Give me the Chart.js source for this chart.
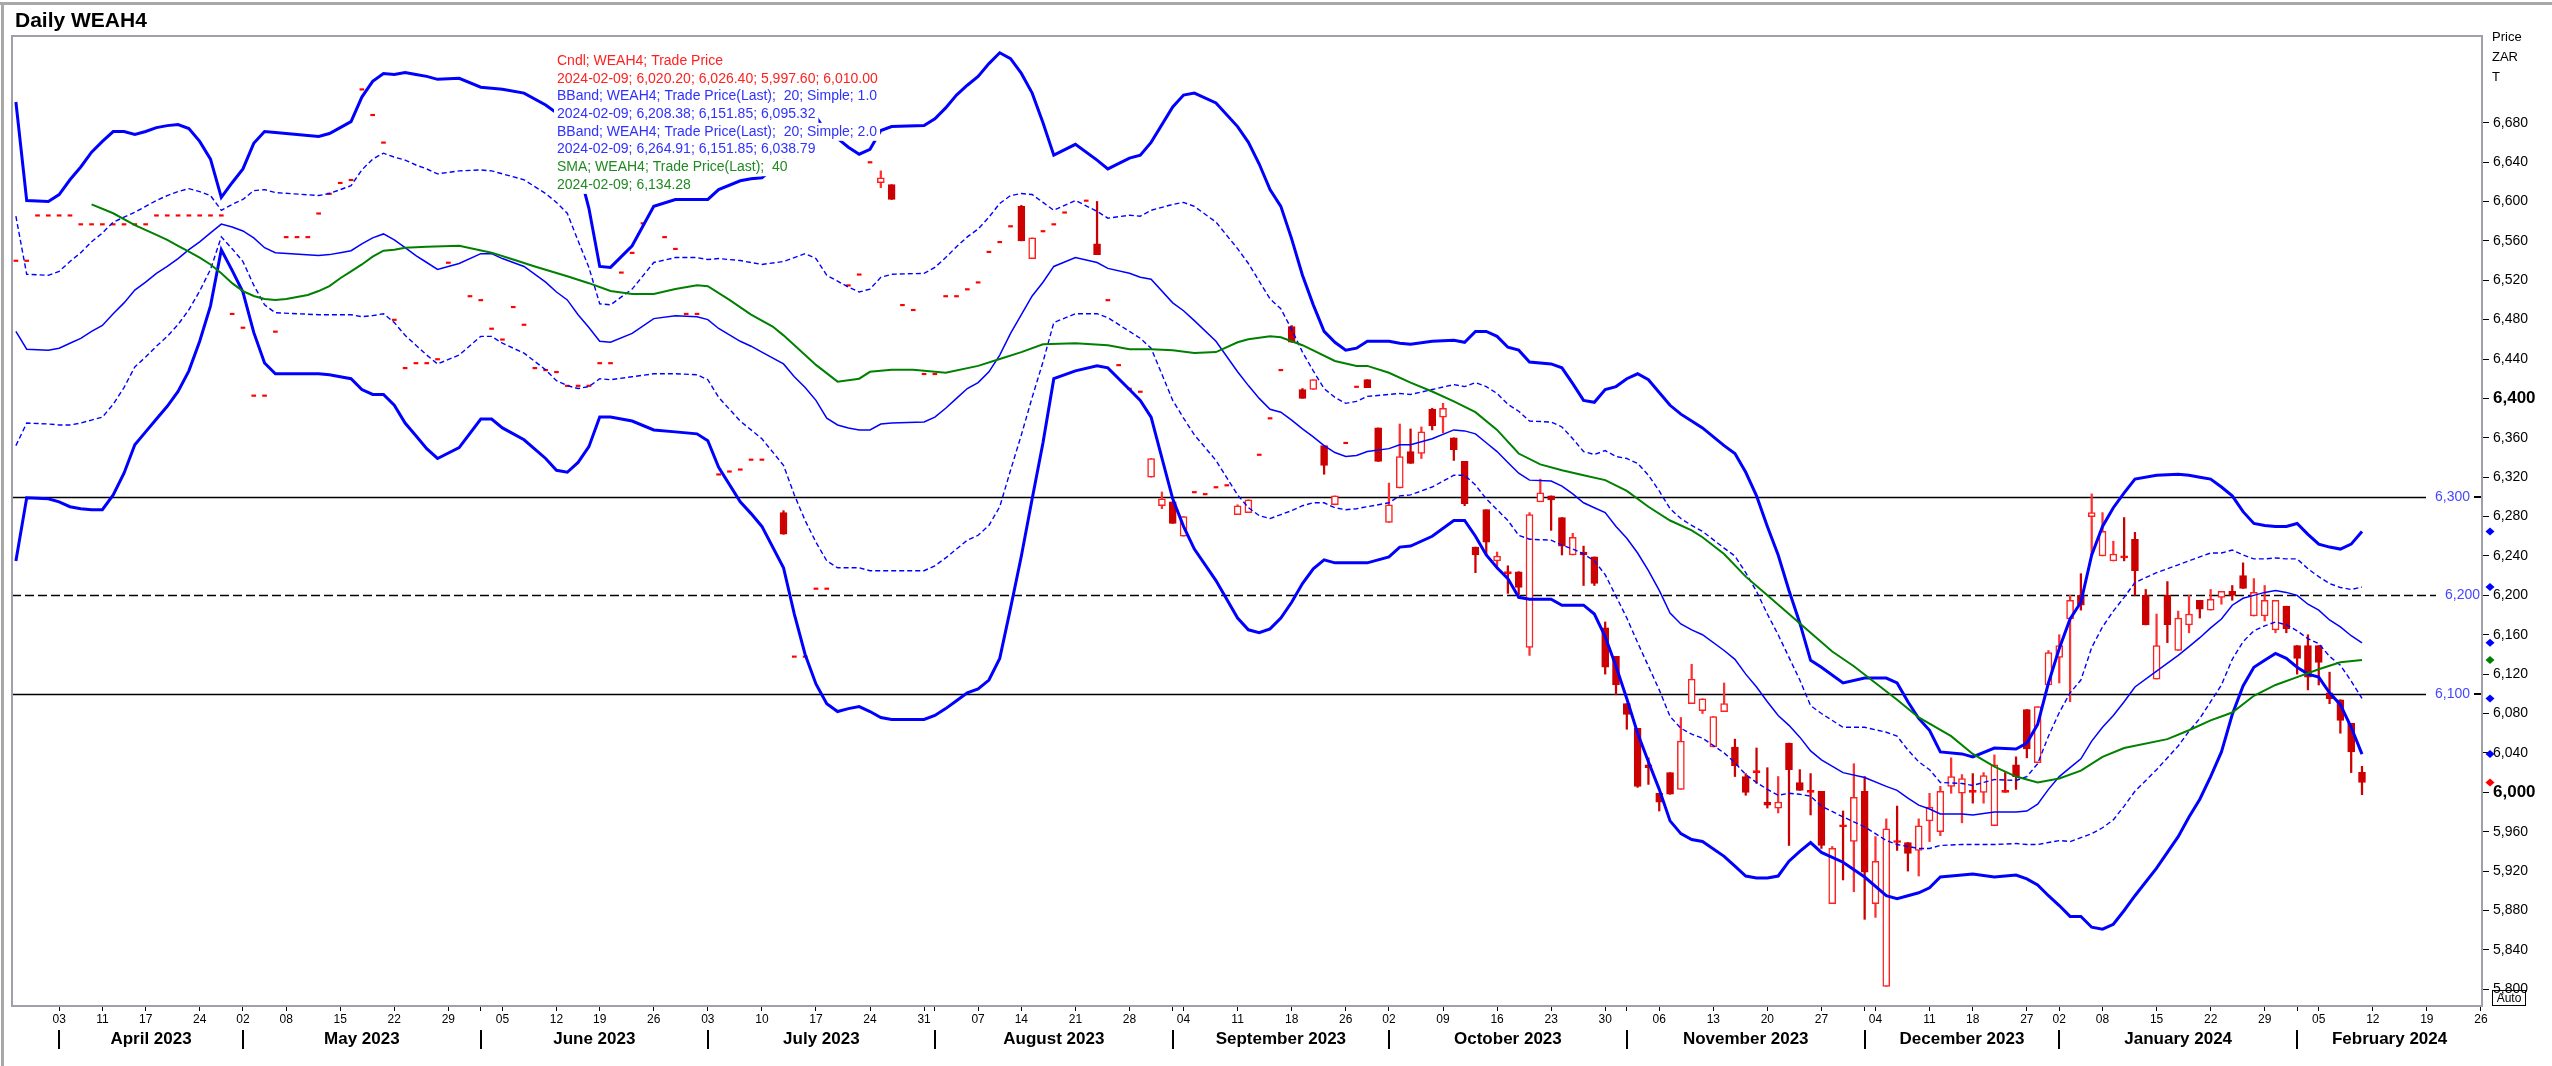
<!DOCTYPE html>
<html>
<head>
<meta charset="utf-8">
<title>Daily WEAH4</title>
<script src="https://cdn.jsdelivr.net/npm/chart.js@4.4.1/dist/chart.umd.min.js"></script>
<style>
  html, body { margin: 0; padding: 0; background: #fff; }
  canvas { display: block; }
</style>
</head>
<body>
<canvas id="priceChart" width="2552" height="1066"></canvas>
<script>
// x values are trading-day numbers, 0 = 3 April 2023 (JSE trading calendar)
const lastDate = '2024-02-09';

// bottom axis: first trading day of each week and its day label
const dayTickIdx = [0,4,8,13,17,21,26,31,36,41,46,50,55,60,65,70,75,80,85,89,94,99,104,109,114,119,123,128,133,138,143,148,153,158,163,168,173,177,182,185,189,194,199,204,209,214,219,224];
const dayTickLabels = ['03','11','17','24','02','08','15','22','29','05','12','19','26','03','10','17','24','31','07','14','21','28','04','11','18','26','02','09','16','23','30','06','13','20','27','04','11','18','27','02','08','15','22','29','05','12','19','26'];
const monthStartIdx = [0,17,39,60,81,103,123,145,167,185,207];
const monthLabels = ['April 2023','May 2023','June 2023','July 2023','August 2023','September 2023','October 2023','November 2023','December 2023','January 2024','February 2024'];

// days with a single traded price (drawn as a dash)
const flatIdx = [-4,-3,-2,-1,0,1,2,3,4,5,6,7,8,9,10,11,12,13,14,15,16,17,18,19,20,21,22,23,24,25,26,27,28,29,30,31,32,33,34,35,36,38,39,40,41,42,43,44,45,46,47,48,49,50,51,52,53,54,56,57,58,59,61,62,63,64,65,68,69,70,71,73,74,75,78,79,80,81,82,83,84,85,86,87,88,91,92,93,95,97,98,99,100,105,106,107,108,111,112,113,119,120];
const flatPrice = [6539,6539,6585,6585,6585,6585,6576,6576,6576,6576,6576,6576,6576,6585,6585,6585,6585,6585,6585,6585,6485,6471,6402,6402,6467,6563,6563,6563,6587,6607,6618,6621,6713,6687,6659,6479,6430,6435,6435,6439,6537,6503,6499,6470,6459,6492,6474,6430,6428,6426,6412,6412,6412,6435,6435,6527,6547,6577,6563,6551,6485,6485,6322,6325,6327,6337,6337,6137,6137,6206,6206,6514,6525,6639,6494,6489,6424,6424,6503,6503,6510,6517,6548,6558,6574,6569,6576,6588,6600,6499,6433,6409,6406,6304,6302,6309,6311,6342,6379,6428,6354,6411];

// candles
const candleIdx = [
  67,76,77,89,90,96,101,102,103,104,
  109,110,114,115,116,117,118,121,122,123,
  124,125,126,127,128,129,130,131,132,133,
  134,135,136,137,138,139,140,141,142,143,
  144,145,146,147,148,149,150,151,152,153,
  154,155,156,157,158,159,160,161,162,163,
  164,165,166,167,168,169,170,171,172,173,
  174,175,176,177,178,179,180,181,182,183,
  184,185,186,187,188,189,190,191,192,193,
  194,195,196,197,198,199,200,201,202,203,
  204,205,206,207,208,209,210,211,212,213];
const candleOpen = [
  6284,6619,6617,6595,6542,6557,6320,6291,6295,6260,
  6282,6284,6473,6409,6409,6352,6292,6419,6370,6274,
  6309,6346,6344,6389,6381,6360,6336,6249,6287,6235,
  6222,6224,6147,6295,6301,6279,6241,6244,6239,6167,
  6138,6090,6065,6028,5999,6020,6003,6090,6083,6046,
  6082,6046,6016,6020,5990,5984,6050,6010,6000,6001,
  5887,5965,5950,6001,5887,5803,5949,5949,5941,5971,
  5960,6006,5999,6000,6000,5966,6000,6028,6084,6030,
  6109,6137,6176,6200,6280,6240,6235,6238,6257,6200,
  6115,6200,6144,6170,6195,6185,6198,6204,6220,6179,
  6179,6165,6189,6149,6149,6149,6101,6094,6070,6020.20];
const candleHigh = [
  6286,6631,6617,6596,6563,6600,6339,6305,6295,6280,
  6292,6297,6474,6410,6419,6352,6301,6419,6370,6314,
  6374,6369,6371,6390,6395,6360,6336,6249,6287,6244,
  6230,6224,6284,6318,6301,6279,6263,6250,6239,6173,
  6138,6090,6065,6035,5999,6020,6076,6130,6095,6077,
  6111,6054,6019,6045,6025,6016,6050,6023,6019,6001,
  5945,5981,6029,6016,5955,5973,5986,5949,5973,5999,
  6006,6035,6018,6019,6020,6038,6020,6036,6084,6087,
  6144,6160,6200,6222,6303,6284,6255,6279,6264,6206,
  6181,6214,6184,6200,6195,6206,6204,6210,6233,6217,
  6210,6195,6189,6149,6160,6149,6122,6094,6070,6026.40];
const candleLow = [
  6262,6614,6602,6560,6542,6546,6320,6288,6273,6260,
  6282,6284,6457,6400,6409,6323,6292,6411,6336,6274,
  6309,6334,6339,6368,6365,6337,6291,6223,6241,6227,
  6202,6200,6139,6295,6266,6241,6241,6210,6210,6120,
  6099,6064,6005,6008,5981,5998,6003,6090,6080,6046,
  6082,6016,5997,6009,5984,5979,5946,6002,5977,5943,
  5887,5911,5899,5871,5873,5803,5941,5920,5915,5950,
  5956,5999,5969,5989,5989,5966,6000,6003,6035,6030,
  6109,6111,6092,6185,6241,6240,6235,6235,6200,6170,
  6115,6152,6144,6162,6177,6185,6191,6195,6207,6179,
  6174,6162,6162,6120,6104,6109,6090,6060,6020,5997.60];
const candleClose = [
  6262,6624,6602,6560,6563,6546,6339,6298,6273,6280,
  6291,6297,6457,6400,6419,6332,6301,6411,6336,6292,
  6341,6334,6366,6372,6390,6348,6293,6241,6254,6240,
  6222,6208,6282,6304,6297,6250,6259,6241,6212,6127,
  6109,6079,6006,6025,5990,5998,6052,6115,6095,6077,
  6090,6027,6000,6020,5987,5990,6023,6002,6000,5946,
  5943,5965,5995,5919,5930,5963,5949,5938,5966,5985,
  6001,6016,6014,6000,6017,6028,6000,6016,6044,6087,
  6142,6149,6195,6190,6284,6265,6242,6238,6225,6170,
  6149,6170,6177,6181,6186,6196,6204,6200,6207,6203,
  6195,6195,6166,6136,6117,6132,6095,6073,6041,6010.00];

// Bollinger bands (20, simple)
const bandIdx = [
  -4,-3,-1,0,1,2,3,4,5,6,
  7,8,9,10,11,12,13,14,15,16,
  17,18,19,20,24,25,26,27,28,29,
  30,31,32,33,34,35,37,39,40,41,
  43,45,46,47,48,49,50,51,53,55,
  57,59,60,61,63,64,65,67,68,69,
  70,71,72,73,74,75,76,77,80,81,
  82,83,84,85,86,87,88,89,90,91,
  92,94,96,97,99,100,101,103,104,105,
  107,109,110,111,112,113,114,115,116,117,
  118,119,120,121,123,124,125,127,129,130,
  131,132,133,134,135,136,138,139,140,141,
  142,143,144,145,146,147,148,149,150,151,
  152,154,155,156,157,158,159,160,161,162,
  163,165,167,169,170,171,172,173,174,176,
  177,179,181,182,183,184,185,186,187,188,
  189,190,191,192,194,196,197,198,199,200,
  201,202,203,204,205,206,207,208,209,210,
  211,212,213];
const bandUpper2 = [
  6701,6601,6600,6607,6622,6635,6650,6661,6671,6671,
  6668,6671,6675,6677,6678,6674,6661,6643,6604,6619,
  6633,6659,6671,6670,6666,6669,6675,6681,6706,6722,
  6730,6729,6731,6729,6727,6724,6725,6716,6715,6714,
  6710,6698,6690,6675,6635,6593,6534,6533,6555,6595,
  6602,6602,6602,6612,6621,6623,6624,6642,6663,6682,
  6686,6670,6664,6655,6648,6653,6672,6676,6677,6684,
  6695,6708,6718,6727,6740,6751,6745,6730,6710,6680,
  6647,6658,6642,6633,6644,6647,6660,6696,6708,6710,
  6700,6676,6660,6638,6612,6595,6562,6525,6495,6468,
  6457,6449,6451,6458,6458,6456,6455,6458,6459,6457,
  6468,6468,6463,6452,6449,6437,6435,6431,6415,6398,
  6396,6409,6412,6420,6425,6419,6406,6393,6384,6377,
  6370,6352,6344,6325,6301,6270,6241,6205,6172,6134,
  6127,6111,6116,6116,6111,6092,6075,6063,6041,6039,
  6036,6045,6044,6050,6069,6111,6146,6176,6193,6241,
  6270,6289,6304,6318,6322,6323,6322,6320,6318,6310,
  6301,6285,6273,6271,6270,6270,6273,6262,6252,6249,
  6247,6252,6264.91];
const bandUpper1 = [
  6585,6526,6525,6529,6539,6548,6559,6568,6579,6584,
  6589,6595,6601,6606,6610,6613,6610,6606,6591,6597,
  6602,6611,6612,6609,6606,6608,6612,6616,6632,6643,
  6649,6645,6642,6637,6633,6628,6631,6632,6631,6628,
  6622,6608,6599,6588,6560,6533,6496,6495,6511,6538,
  6543,6543,6541,6542,6540,6538,6536,6539,6543,6547,
  6542,6525,6519,6513,6508,6511,6523,6526,6527,6533,
  6543,6554,6564,6572,6584,6598,6606,6608,6607,6599,
  6591,6601,6590,6583,6586,6585,6591,6597,6599,6595,
  6579,6552,6537,6519,6501,6491,6470,6447,6428,6410,
  6401,6395,6397,6402,6404,6405,6404,6409,6414,6412,
  6416,6412,6405,6394,6387,6377,6376,6371,6359,6346,
  6343,6347,6341,6339,6334,6322,6306,6288,6278,6271,
  6265,6248,6240,6223,6204,6181,6160,6137,6114,6088,
  6080,6066,6066,6061,6057,6043,6031,6023,6010,6009,
  6007,6013,6012,6016,6029,6057,6081,6101,6114,6147,
  6168,6184,6198,6213,6223,6231,6235,6239,6243,6243,
  6246,6241,6237,6237,6238,6237,6237,6227,6219,6212,
  6208,6206,6208.38];
const bandMid = [
  6468,6450,6449,6451,6456,6461,6468,6474,6486,6497,
  6510,6518,6527,6534,6542,6551,6559,6568,6577,6574,
  6570,6563,6553,6548,6545,6546,6548,6550,6557,6563,
  6567,6561,6553,6545,6538,6531,6537,6547,6547,6542,
  6534,6518,6508,6500,6485,6472,6458,6457,6466,6481,
  6484,6483,6480,6471,6458,6453,6447,6435,6422,6411,
  6398,6380,6373,6370,6368,6368,6374,6375,6376,6381,
  6390,6400,6410,6416,6427,6444,6466,6485,6504,6518,
  6534,6543,6538,6532,6527,6523,6521,6497,6489,6479,
  6458,6427,6413,6400,6389,6386,6378,6369,6361,6352,
  6345,6341,6342,6346,6349,6353,6353,6359,6368,6367,
  6364,6355,6346,6335,6324,6317,6316,6311,6303,6294,
  6289,6284,6270,6258,6243,6225,6205,6182,6171,6165,
  6160,6144,6135,6120,6107,6092,6078,6068,6056,6042,
  6033,6020,6015,6006,6002,5994,5987,5983,5978,5978,
  5977,5980,5980,5981,5988,6003,6016,6025,6034,6052,
  6066,6078,6092,6107,6123,6139,6148,6157,6167,6176,
  6190,6197,6200,6203,6205,6203,6200,6191,6185,6175,
  6168,6159,6151.85];
const bandLower1 = [
  6352,6375,6374,6373,6373,6375,6378,6381,6394,6411,
  6432,6442,6453,6463,6475,6490,6509,6531,6564,6552,
  6539,6515,6495,6487,6485,6485,6485,6485,6483,6484,
  6486,6477,6464,6454,6444,6435,6444,6463,6463,6456,
  6446,6429,6418,6413,6410,6412,6420,6419,6422,6425,
  6425,6424,6419,6401,6377,6368,6359,6332,6302,6276,
  6254,6235,6228,6228,6228,6225,6225,6225,6225,6230,
  6238,6247,6256,6261,6271,6290,6327,6363,6401,6437,
  6477,6486,6486,6482,6468,6461,6451,6398,6380,6363,
  6337,6302,6289,6281,6278,6282,6286,6291,6294,6294,
  6289,6287,6288,6290,6294,6301,6302,6310,6322,6322,
  6312,6298,6287,6276,6261,6257,6256,6251,6247,6242,
  6235,6221,6199,6177,6152,6128,6104,6077,6065,6059,
  6055,6040,6030,6018,6010,6003,5997,5999,5998,5996,
  5986,5975,5965,5951,5947,5945,5943,5943,5946,5947,
  5947,5947,5948,5947,5947,5949,5951,5950,5954,5958,
  5964,5972,5986,6001,6023,6047,6062,6075,6092,6109,
  6135,6153,6164,6169,6173,6170,6164,6156,6151,6138,
  6129,6113,6095.32];
const bandLower2 = [
  6235,6299,6298,6295,6290,6288,6287,6287,6302,6324,
  6353,6366,6379,6392,6407,6428,6458,6494,6551,6530,
  6508,6467,6436,6425,6425,6424,6422,6420,6409,6404,
  6404,6393,6375,6362,6349,6339,6350,6379,6379,6370,
  6358,6339,6327,6325,6335,6351,6381,6381,6377,6368,
  6366,6364,6357,6330,6295,6283,6270,6228,6181,6140,
  6110,6090,6082,6085,6087,6082,6076,6074,6074,6078,
  6085,6093,6101,6105,6114,6136,6187,6240,6298,6355,
  6420,6428,6433,6431,6409,6398,6381,6298,6270,6247,
  6215,6177,6165,6162,6166,6177,6193,6212,6227,6236,
  6233,6233,6233,6233,6239,6249,6250,6260,6276,6276,
  6260,6241,6228,6217,6198,6196,6196,6190,6190,6190,
  6181,6158,6128,6095,6060,6031,6003,5971,5958,5952,
  5950,5935,5925,5915,5913,5913,5915,5930,5940,5949,
  5939,5929,5914,5895,5892,5895,5898,5903,5914,5916,
  5917,5914,5916,5912,5906,5895,5885,5874,5874,5863,
  5861,5866,5880,5895,5923,5955,5975,5993,6016,6041,
  6079,6108,6127,6134,6141,6136,6127,6120,6117,6101,
  6089,6066,6038.79];

// 40-day simple moving average
const smaIdx = [
  3,5,7,9,10,11,12,13,14,15,
  16,17,18,19,20,21,23,24,25,26,
  27,28,29,30,31,32,34,37,40,42,
  44,47,49,51,53,55,57,59,60,62,
  64,66,67,69,70,72,74,75,77,79,
  82,85,87,89,91,94,97,99,101,103,
  105,107,109,110,112,113,115,118,120,121,
  123,125,127,129,131,133,135,137,139,141,
  143,145,147,149,151,152,154,156,158,160,
  162,164,166,168,170,172,175,177,179,181,
  183,185,187,189,191,195,197,199,201,203,
  205,207,209,211,213];
const smaValues = [
  6597,6588,6576,6566,6561,6555,6549,6543,6536,6527,
  6517,6509,6504,6501,6500,6501,6505,6509,6514,6522,
  6529,6536,6544,6550,6551,6553,6554,6555,6548,6541,
  6534,6524,6517,6509,6506,6506,6511,6515,6514,6500,
  6485,6473,6464,6444,6434,6417,6420,6427,6429,6429,
  6426,6433,6440,6447,6455,6456,6454,6450,6450,6449,
  6446,6447,6457,6460,6463,6462,6454,6438,6433,6433,
  6426,6416,6407,6397,6386,6368,6344,6333,6327,6322,
  6317,6306,6290,6276,6266,6259,6242,6219,6200,6181,
  6162,6143,6128,6111,6094,6076,6057,6039,6026,6016,
  6010,6014,6022,6036,6045,6054,6063,6073,6081,6098,
  6109,6117,6125,6132,6134.28];

// horizontal price levels
const levelValues = [6300, 6200, 6100];

// ---------------------------------------------------------------
const FONT = '"Liberation Sans", Arial, Helvetica, sans-serif';
const BLUE = '#0000ff';
const GREEN = '#008000';
const RED = '#ff0000';
const DARK_RED = '#cc0000';
Chart.defaults.font.family = FONT;

const last = a => a[a.length - 1];
const pts = (xs, ys) => xs.map((x, i) => ({ x: x, y: ys[i] }));
const fmt2 = v => v.toLocaleString('en-US', { minimumFractionDigits: 2, maximumFractionDigits: 2 });

const isUp = candleIdx.map((_, i) => candleClose[i] > candleOpen[i]);
const isDoji = candleIdx.map((_, i) => candleClose[i] === candleOpen[i]);

const legendRows = [
  { text: 'Cndl; WEAH4; Trade Price', color: '#ff2020' },
  { text: lastDate + '; ' + [last(candleOpen), last(candleHigh), last(candleLow), last(candleClose)].map(fmt2).join('; '), color: '#ff2020' },
  { text: 'BBand; WEAH4; Trade Price(Last);  20; Simple; 1.0', color: '#3030ff' },
  { text: lastDate + '; ' + [last(bandUpper1), last(bandMid), last(bandLower1)].map(fmt2).join('; '), color: '#3030ff' },
  { text: 'BBand; WEAH4; Trade Price(Last);  20; Simple; 2.0', color: '#3030ff' },
  { text: lastDate + '; ' + [last(bandUpper2), last(bandMid), last(bandLower2)].map(fmt2).join('; '), color: '#3030ff' },
  { text: 'SMA; WEAH4; Trade Price(Last);  40', color: '#208a20' },
  { text: lastDate + '; ' + fmt2(last(smaValues)), color: '#208a20' }
];

const allTickIdx = Array.from(new Set(dayTickIdx.concat(monthStartIdx))).sort((a, b) => a - b);

const decor = {
  id: 'decor',
  beforeDraw(chart) {
    const { ctx, width, height } = chart;
    ctx.save();
    ctx.fillStyle = '#ffffff';
    ctx.fillRect(0, 0, width, height);
    ctx.fillStyle = '#a8a8a8';
    ctx.fillRect(0, 2, width, 3);
    ctx.fillRect(1, 2, 3, height - 2);
    ctx.fillStyle = '#000';
    ctx.font = 'bold 21px ' + FONT;
    ctx.textAlign = 'left';
    ctx.textBaseline = 'middle';
    ctx.fillText('Daily WEAH4', 15, 21);
    ctx.restore();
  },
  beforeDatasetsDraw(chart) {
    const { ctx, chartArea } = chart;
    const y = chart.scales.y;
    ctx.save();
    ctx.strokeStyle = '#000';
    ctx.lineWidth = 1.6;
    levelValues.forEach((v, i) => {
      const py = Math.round(y.getPixelForValue(v)) + 0.5;
      const dashed = i === 1;
      ctx.setLineDash(dashed ? [9, 4] : []);
      ctx.beginPath();
      ctx.moveTo(chartArea.left, py);
      ctx.lineTo(chartArea.right - (dashed ? 46 : 56), py);
      ctx.stroke();
    });
    ctx.restore();
  },
  afterDatasetsDraw(chart) {
    const { ctx } = chart;
    ctx.save();
    ctx.font = '14px ' + FONT;
    ctx.textAlign = 'left';
    ctx.textBaseline = 'middle';
    legendRows.forEach((r, i) => {
      const ty = 61 + i * 17.7;
      const w = ctx.measureText(r.text).width;
      ctx.fillStyle = '#ffffff';
      ctx.fillRect(554, ty - 9, w + 6, 18);
    });
    legendRows.forEach((r, i) => {
      const ty = 61 + i * 17.7;
      ctx.fillStyle = r.color;
      ctx.fillText(r.text, 557, ty);
    });
    ctx.restore();
  },
  afterDraw(chart) {
    const { ctx, chartArea } = chart;
    const x = chart.scales.x, y = chart.scales.y;
    ctx.save();
    // plot frame
    ctx.strokeStyle = '#a0a0aa';
    ctx.lineWidth = 2;
    ctx.strokeRect(chartArea.left, chartArea.top, chartArea.right - chartArea.left, chartArea.bottom - chartArea.top);

    // level labels on the right
    ctx.font = '14px ' + FONT;
    ctx.textBaseline = 'middle';
    ctx.textAlign = 'right';
    levelValues.forEach((v, i) => {
      const py = y.getPixelForValue(v);
      const withTick = i !== 1;
      ctx.fillStyle = '#4646ff';
      ctx.fillText(v.toLocaleString('en-US'), chartArea.right - (withTick ? 12 : 2), py);
      if (withTick) {
        ctx.fillStyle = '#000';
        ctx.fillRect(chartArea.right - 8, Math.round(py) - 1, 7, 2);
      }
    });

    // last-value markers
    const markers = [
      [last(bandUpper2), BLUE], [last(bandUpper1), BLUE], [last(bandMid), BLUE],
      [last(bandLower1), BLUE], [last(bandLower2), BLUE], [last(smaValues), GREEN],
      [last(candleClose), RED]
    ];
    markers.forEach(([v, c]) => {
      const px = chartArea.right + 8, py = y.getPixelForValue(v);
      ctx.fillStyle = c;
      ctx.beginPath();
      ctx.moveTo(px, py - 4); ctx.lineTo(px + 4.5, py); ctx.lineTo(px, py + 4); ctx.lineTo(px - 4.5, py);
      ctx.closePath();
      ctx.fill();
    });

    // axis caption
    ctx.fillStyle = '#000';
    ctx.font = '13px ' + FONT;
    ctx.textAlign = 'left';
    ['Price', 'ZAR', 'T'].forEach((t, i) => ctx.fillText(t, chartArea.right + 10, 37 + i * 20));

    // Auto box
    ctx.strokeStyle = '#000';
    ctx.lineWidth = 1;
    ctx.strokeRect(chartArea.right + 10.5, 990.5, 33, 15);
    ctx.font = '12px ' + FONT;
    ctx.textAlign = 'center';
    ctx.fillText('Auto', chartArea.right + 27, 998.5);

    // month separators and labels
    ctx.font = 'bold 17px ' + FONT;
    ctx.textAlign = 'center';
    ctx.fillStyle = '#000';
    monthStartIdx.forEach((m, i) => {
      const x0 = x.getPixelForValue(m);
      const x1 = i + 1 < monthStartIdx.length ? x.getPixelForValue(monthStartIdx[i + 1]) : chartArea.right;
      ctx.fillRect(Math.round(x0) - 1, 1030, 2, 19);
      ctx.fillText(monthLabels[i], (x0 + x1) / 2, 1039);
    });
    ctx.restore();
  }
};

const lineDs = (label, xs, ys, color, width, dash) => ({
  type: 'line', label: label, data: pts(xs, ys),
  borderColor: color, borderWidth: width, borderDash: dash || [],
  pointRadius: 0, tension: 0, fill: false, order: 1
});

const ctx = document.getElementById('priceChart').getContext('2d');
const priceChart = new Chart(ctx, {
  type: 'bar',
  data: {
    datasets: [
      lineDs('SMA 40', smaIdx, smaValues, GREEN, 2),
      lineDs('BBand upper 2.0', bandIdx, bandUpper2, BLUE, 3),
      lineDs('BBand upper 1.0', bandIdx, bandUpper1, BLUE, 1.4, [5, 3]),
      lineDs('BBand middle', bandIdx, bandMid, BLUE, 1.5),
      lineDs('BBand lower 1.0', bandIdx, bandLower1, BLUE, 1.4, [5, 3]),
      lineDs('BBand lower 2.0', bandIdx, bandLower2, BLUE, 3),
      {
        label: 'Body',
        data: candleIdx.map((d, i) => ({ x: d, y: [Math.min(candleOpen[i], candleClose[i]), Math.max(candleOpen[i], candleClose[i])] })),
        backgroundColor: candleIdx.map((_, i) => isDoji[i] ? RED : (isUp[i] ? '#ffffff' : DARK_RED)),
        borderColor: candleIdx.map((_, i) => isDoji[i] ? RED : (isUp[i] ? '#ff2020' : DARK_RED)),
        borderWidth: 1.5,
        borderSkipped: false,
        barThickness: 7,
        minBarLength: 2,
        grouped: false,
        order: 2
      },
      {
        label: 'Price',
        data: flatIdx.map((d, i) => ({ x: d, y: [flatPrice[i], flatPrice[i]] })),
        backgroundColor: RED,
        borderWidth: 0,
        barThickness: 4,
        minBarLength: 1.5,
        grouped: false,
        order: 2
      },
      {
        label: 'Wick',
        data: candleIdx.map((d, i) => ({ x: d, y: [candleLow[i], candleHigh[i]] })),
        backgroundColor: candleIdx.map((_, i) => isUp[i] ? '#ff3030' : DARK_RED),
        borderWidth: 0,
        barThickness: 1.6,
        grouped: false,
        order: 3
      }
    ]
  },
  options: {
    responsive: false,
    animation: false,
    devicePixelRatio: 1,
    layout: { padding: { left: 12, top: 36, right: 0, bottom: 0 } },
    plugins: { legend: { display: false }, tooltip: { enabled: false } },
    events: [],
    scales: {
      x: {
        type: 'linear',
        position: 'bottom',
        min: -4.36,
        max: 224.1,
        offset: false,
        afterFit: s => { s.height = 60; },
        afterBuildTicks: s => { s.ticks = allTickIdx.map(v => ({ value: v })); },
        ticks: {
          autoSkip: false,
          maxRotation: 0,
          padding: 1,
          color: '#000',
          font: { size: 12 },
          callback: v => { const k = dayTickIdx.indexOf(v); return k >= 0 ? dayTickLabels[k] : ''; }
        },
        grid: { drawOnChartArea: false, drawTicks: true, tickLength: 5, color: '#000', offset: false },
        border: { display: true, color: '#a0a0aa', width: 2 }
      },
      y: {
        type: 'linear',
        position: 'right',
        min: 5783,
        max: 6768,
        afterFit: s => { s.width = 70; },
        afterBuildTicks: s => { s.ticks = s.ticks.filter(t => t.value <= 6680); },
        ticks: {
          stepSize: 40,
          includeBounds: false,
          padding: 4,
          color: '#000',
          font: c => (c.tick && c.tick.value % 400 === 0) ? { size: 17, weight: 'bold' } : { size: 14 },
          callback: v => v.toLocaleString('en-US')
        },
        grid: { drawOnChartArea: false, drawTicks: true, tickLength: 7, color: '#000' },
        border: { display: true, color: '#a0a0aa', width: 2 }
      }
    }
  },
  plugins: [decor]
});
</script>
</body>
</html>
